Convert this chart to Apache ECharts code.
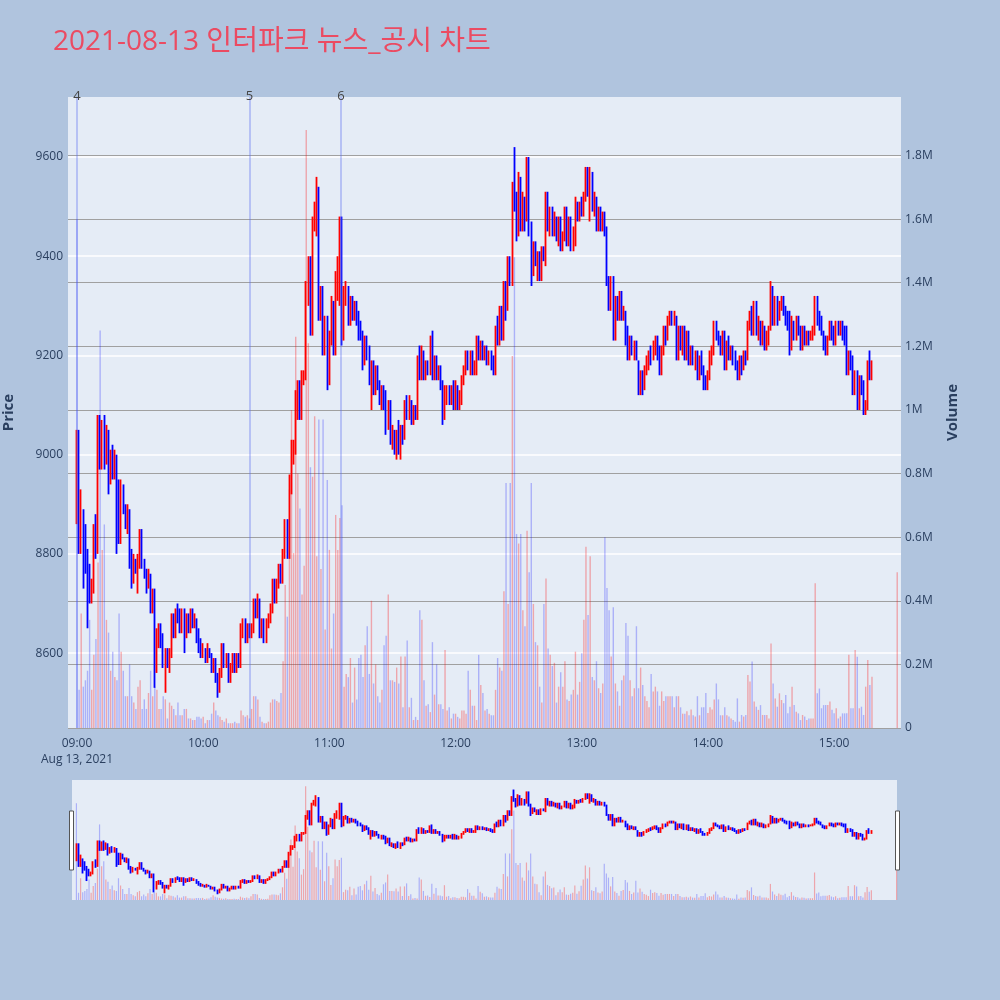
<!DOCTYPE html>
<html>
<head>
<meta charset="utf-8">
<script src="https://cdn.jsdelivr.net/npm/echarts@6/dist/echarts.min.js"></script>
<style>
html,body{margin:0;padding:0;background:#B0C4DE;}
#chart{width:1000px;height:1000px;}
</style>
</head>
<body>
<div id="chart"></div>
<script>
// ---------------- data ----------------
const chartTitle = '2021-08-13 인터파크 뉴스_공시 차트';
const dateLabel = 'Aug 13, 2021';
const firstOpen = 8900;
// one close per minute, 09:00 .. 15:18 (each minute opens at the previous close)
const closes = [
  9050, 8810, 8880, 8780, 8770, 8760, 8710, 8730, 8850, 8800,
  9080, 8980, 9070, 8990, 9050, 8940, 9000, 8960, 9000, 8910,
  8830, 8940, 8890, 8870, 8890, 8780, 8740, 8780, 8770, 8790,
  8850, 8780, 8760, 8740, 8760, 8690, 8730, 8560, 8640, 8650,
  8620, 8580, 8600, 8580, 8600, 8670, 8640, 8680, 8670, 8650,
  8680, 8640, 8670, 8650, 8680, 8660, 8670, 8630, 8620, 8600,
  8610, 8590, 8610, 8600, 8570, 8580, 8550, 8530, 8560, 8610,
  8580, 8590, 8550, 8570, 8590, 8570, 8590, 8580, 8650, 8660,
  8630, 8650, 8640, 8650, 8700, 8680, 8710, 8640, 8660, 8630,
  8660, 8670, 8690, 8740, 8710, 8740, 8770, 8750, 8800, 8860,
  8800, 8940, 8990, 9010, 9100, 9130, 9080, 9150, 9160, 9340,
  9390, 9250, 9470, 9500, 9540, 9300, 9330, 9210, 9260, 9140,
  9230, 9300, 9210, 9330, 9390, 9460, 9240, 9320, 9340, 9270,
  9310, 9280, 9300, 9270, 9250, 9240, 9190, 9230, 9200, 9150,
  9180, 9130, 9170, 9140, 9110, 9130, 9100, 9060, 9090, 9030,
  9040, 9010, 9040, 9010, 9050, 9030, 9100, 9080, 9110, 9070,
  9090, 9080, 9190, 9160, 9210, 9160, 9180, 9170, 9230, 9160,
  9190, 9160, 9170, 9140, 9080, 9110, 9130, 9110, 9130, 9100,
  9130, 9100, 9120, 9150, 9170, 9200, 9180, 9200, 9170, 9180,
  9230, 9200, 9220, 9200, 9210, 9190, 9200, 9180, 9170, 9250,
  9230, 9290, 9240, 9330, 9300, 9390, 9350, 9540, 9500, 9440,
  9550, 9460, 9510, 9470, 9590, 9460, 9370, 9420, 9390, 9400,
  9360, 9410, 9400, 9520, 9460, 9490, 9450, 9480, 9440, 9470,
  9420, 9440, 9490, 9430, 9470, 9420, 9440, 9510, 9480, 9500,
  9490, 9520, 9570, 9530, 9560, 9500, 9510, 9460, 9490, 9460,
  9480, 9450, 9350, 9300, 9350, 9250, 9310, 9280, 9320, 9280,
  9290, 9240, 9200, 9230, 9210, 9220, 9190, 9130, 9160, 9130,
  9170, 9180, 9200, 9190, 9220, 9230, 9200, 9170, 9210, 9250,
  9240, 9270, 9280, 9270, 9280, 9200, 9250, 9220, 9250, 9200,
  9240, 9190, 9210, 9180, 9200, 9150, 9190, 9170, 9140, 9130,
  9160, 9190, 9210, 9260, 9240, 9230, 9210, 9240, 9180, 9220,
  9200, 9210, 9190, 9180, 9150, 9190, 9170, 9200, 9190, 9260,
  9280, 9250, 9300, 9250, 9260, 9230, 9250, 9220, 9240, 9250,
  9340, 9270, 9310, 9280, 9300, 9310, 9290, 9280, 9260, 9210,
  9260, 9240, 9270, 9250, 9220, 9250, 9230, 9240, 9230, 9240,
  9250, 9310, 9290, 9270, 9250, 9220, 9210, 9230, 9260, 9240,
  9230, 9260, 9250, 9260, 9240, 9230, 9170, 9200, 9180, 9130,
  9160, 9100, 9150, 9130, 9090, 9100, 9180, 9160, 9180
];
const highs = [
  9050, 9050, 8930, 8890, 8860, 8810, 8780, 8750, 8860, 8880,
  9080, 9080, 9070, 9080, 9060, 9050, 9010, 9020, 9010, 9000,
  8950, 8950, 8940, 8900, 8900, 8890, 8810, 8800, 8790, 8800,
  8850, 8850, 8790, 8770, 8770, 8760, 8730, 8730, 8650, 8660,
  8660, 8640, 8610, 8610, 8610, 8680, 8680, 8690, 8700, 8690,
  8690, 8690, 8680, 8680, 8690, 8690, 8680, 8670, 8650, 8630,
  8620, 8610, 8620, 8610, 8600, 8590, 8590, 8560, 8570, 8620,
  8620, 8600, 8600, 8580, 8600, 8600, 8600, 8600, 8660, 8670,
  8670, 8660, 8660, 8660, 8710, 8710, 8720, 8710, 8670, 8670,
  8670, 8680, 8700, 8750, 8750, 8750, 8780, 8780, 8810, 8870,
  8870, 8960, 9030, 9030, 9130, 9150, 9150, 9170, 9170, 9350,
  9400, 9400, 9480, 9510, 9560, 9540, 9340, 9340, 9280, 9280,
  9250, 9320, 9310, 9370, 9400, 9480, 9480, 9340, 9350, 9340,
  9320, 9320, 9310, 9310, 9290, 9270, 9250, 9240, 9240, 9220,
  9190, 9190, 9180, 9180, 9150, 9140, 9140, 9130, 9110, 9110,
  9060, 9050, 9050, 9070, 9060, 9060, 9110, 9120, 9120, 9110,
  9100, 9100, 9200, 9220, 9220, 9210, 9190, 9190, 9240, 9250,
  9200, 9200, 9180, 9180, 9150, 9140, 9140, 9140, 9140, 9150,
  9150, 9140, 9130, 9160, 9180, 9210, 9210, 9210, 9210, 9190,
  9240, 9240, 9230, 9230, 9220, 9220, 9210, 9210, 9200, 9260,
  9280, 9300, 9300, 9350, 9350, 9400, 9400, 9550, 9620, 9530,
  9570, 9560, 9530, 9520, 9600, 9600, 9470, 9430, 9430, 9410,
  9410, 9420, 9420, 9530, 9530, 9500, 9500, 9490, 9480, 9480,
  9480, 9450, 9500, 9500, 9480, 9480, 9460, 9520, 9510, 9510,
  9520, 9530, 9580, 9580, 9580, 9570, 9530, 9520, 9500, 9500,
  9490, 9490, 9460, 9360, 9360, 9360, 9320, 9320, 9330, 9330,
  9300, 9290, 9260, 9240, 9240, 9230, 9230, 9190, 9170, 9170,
  9180, 9200, 9210, 9220, 9230, 9240, 9240, 9220, 9220, 9260,
  9260, 9280, 9290, 9290, 9290, 9280, 9260, 9260, 9260, 9260,
  9250, 9250, 9220, 9220, 9210, 9210, 9200, 9210, 9180, 9160,
  9170, 9210, 9220, 9270, 9270, 9250, 9240, 9250, 9250, 9230,
  9240, 9220, 9220, 9210, 9190, 9200, 9200, 9210, 9210, 9270,
  9290, 9300, 9310, 9310, 9280, 9270, 9270, 9260, 9250, 9260,
  9350, 9340, 9320, 9320, 9310, 9320, 9320, 9300, 9290, 9290,
  9280, 9270, 9280, 9280, 9260, 9260, 9260, 9250, 9250, 9250,
  9260, 9320, 9320, 9290, 9280, 9250, 9240, 9240, 9270, 9270,
  9260, 9270, 9270, 9270, 9270, 9260, 9260, 9210, 9210, 9200,
  9170, 9170, 9160, 9160, 9150, 9110, 9190, 9210, 9190
];
const lows = [
  8860, 8800, 8800, 8730, 8760, 8650, 8700, 8700, 8720, 8790,
  8800, 8970, 8970, 8970, 8980, 8920, 8940, 8950, 8950, 8800,
  8820, 8820, 8880, 8850, 8840, 8770, 8730, 8740, 8760, 8720,
  8770, 8770, 8750, 8720, 8730, 8680, 8680, 8530, 8560, 8610,
  8610, 8570, 8520, 8570, 8560, 8590, 8630, 8630, 8660, 8640,
  8640, 8600, 8630, 8640, 8640, 8650, 8650, 8620, 8600, 8590,
  8590, 8580, 8580, 8590, 8560, 8560, 8540, 8510, 8520, 8550,
  8570, 8570, 8540, 8540, 8560, 8560, 8560, 8570, 8570, 8630,
  8620, 8620, 8630, 8630, 8640, 8670, 8670, 8630, 8630, 8620,
  8620, 8650, 8660, 8680, 8700, 8700, 8730, 8740, 8740, 8790,
  8790, 8790, 8920, 8980, 9000, 9070, 9070, 9070, 9140, 9150,
  9300, 9240, 9240, 9450, 9440, 9270, 9270, 9200, 9200, 9130,
  9140, 9220, 9200, 9200, 9310, 9300, 9220, 9230, 9300, 9260,
  9260, 9270, 9270, 9260, 9230, 9230, 9170, 9180, 9190, 9140,
  9090, 9120, 9120, 9130, 9100, 9090, 9090, 9040, 9050, 9020,
  9010, 9000, 8990, 9000, 8990, 9020, 9030, 9070, 9070, 9060,
  9060, 9070, 9070, 9150, 9150, 9150, 9150, 9160, 9160, 9150,
  9150, 9150, 9150, 9130, 9060, 9070, 9100, 9100, 9100, 9090,
  9090, 9090, 9090, 9100, 9140, 9160, 9170, 9160, 9160, 9160,
  9160, 9190, 9190, 9190, 9190, 9180, 9180, 9170, 9160, 9160,
  9220, 9220, 9230, 9230, 9270, 9290, 9340, 9340, 9490, 9430,
  9440, 9450, 9450, 9450, 9470, 9440, 9340, 9360, 9380, 9350,
  9350, 9350, 9390, 9380, 9450, 9440, 9440, 9440, 9430, 9420,
  9410, 9410, 9430, 9420, 9420, 9410, 9410, 9420, 9470, 9470,
  9480, 9480, 9510, 9520, 9470, 9490, 9480, 9450, 9450, 9450,
  9450, 9440, 9340, 9290, 9290, 9230, 9230, 9270, 9270, 9270,
  9270, 9220, 9190, 9190, 9200, 9190, 9190, 9120, 9120, 9120,
  9130, 9160, 9170, 9180, 9190, 9200, 9190, 9160, 9160, 9200,
  9220, 9230, 9260, 9260, 9260, 9190, 9190, 9210, 9200, 9190,
  9190, 9180, 9180, 9180, 9170, 9150, 9150, 9160, 9130, 9130,
  9130, 9150, 9180, 9200, 9230, 9220, 9200, 9200, 9170, 9170,
  9190, 9190, 9180, 9170, 9150, 9150, 9160, 9170, 9180, 9190,
  9250, 9240, 9240, 9240, 9230, 9220, 9220, 9210, 9210, 9220,
  9250, 9260, 9260, 9260, 9270, 9290, 9280, 9260, 9250, 9200,
  9210, 9230, 9230, 9240, 9210, 9210, 9220, 9220, 9220, 9230,
  9230, 9240, 9260, 9250, 9240, 9210, 9200, 9200, 9230, 9230,
  9220, 9220, 9240, 9240, 9230, 9220, 9160, 9160, 9170, 9120,
  9120, 9090, 9090, 9120, 9080, 9080, 9090, 9150, 9150
];
// volume per minute, thousands of shares
const volumesK = [
  1600, 120, 360, 130, 150, 180, 340, 120, 230, 280,
  520, 1250, 560, 640, 340, 300, 180, 240, 160, 150,
  360, 240, 180, 100, 100, 200, 100, 80, 60, 130,
  150, 60, 90, 60, 110, 180, 100, 130, 120, 60,
  60, 100, 90, 30, 80, 70, 60, 40, 80, 40,
  40, 60, 60, 30, 30, 25, 25, 35, 35, 30,
  35, 15, 25, 25, 45, 80, 55, 40, 35, 25,
  20, 30, 15, 15, 15, 20, 15, 15, 55, 40,
  35, 40, 30, 60, 100, 100, 90, 35, 20, 15,
  15, 20, 80, 90, 90, 85, 80, 110, 210, 450,
  350, 750, 1000, 550, 1230, 800, 690, 420, 510, 1880,
  1210, 820, 790, 980, 540, 970, 500, 970, 310, 780,
  560, 250, 360, 670, 560, 660, 700, 130, 170, 160,
  220, 80, 190, 90, 220, 230, 160, 260, 320, 170,
  400, 140, 200, 100, 80, 120, 260, 290, 420, 150,
  150, 145, 190, 140, 225, 65, 225, 275, 65, 95,
  25, 35, 25, 370, 340, 150, 70, 75, 50, 270,
  105, 200, 75, 75, 60, 245, 55, 65, 30, 45,
  45, 35, 30, 55, 55, 45, 180, 120, 70, 70,
  25, 230, 135, 110, 55, 60, 45, 40, 40, 120,
  220, 190, 180, 430, 770, 390, 770, 1170, 1480, 610,
  580, 610, 370, 320, 620, 490, 770, 390, 270, 260,
  130, 80, 390, 470, 250, 230, 195, 205, 80, 130,
  175, 130, 210, 90, 85, 105, 120, 240, 105, 145,
  235, 340, 570, 355, 540, 160, 150, 210, 125, 110,
  140, 600, 440, 370, 225, 380, 140, 115, 70, 150,
  165, 330, 290, 150, 100, 125, 320, 125, 190, 135,
  100, 85, 65, 170, 115, 130, 115, 70, 115, 85,
  100, 100, 100, 100, 65, 100, 100, 65, 45, 45,
  53, 40, 58, 40, 36, 100, 40, 65, 65, 110,
  47, 65, 58, 90, 140, 90, 40, 40, 65, 40,
  36, 30, 25, 20, 93, 20, 41, 36, 41, 167,
  146, 209, 83, 67, 57, 72, 41, 41, 41, 30,
  266, 140, 93, 67, 109, 88, 78, 104, 46, 67,
  130, 72, 51, 46, 25, 41, 36, 25, 30, 30,
  30, 455, 109, 124, 62, 72, 72, 72, 83, 57,
  46, 62, 30, 36, 46, 46, 46, 230, 62, 62,
  245, 224, 62, 67, 41, 130, 214, 135, 161
];
const closingAuction = { time: '15:30', price: 9220, volumeK: 490 };
// news / disclosure markers
const newsTimes = ['09:00', '10:22', '11:05:30'];
const newsLabels = ['4', '5', '6'];
const timeTicks = ['09:00', '10:00', '11:00', '12:00', '13:00', '14:00', '15:00'];
const priceTicks = [8600, 8800, 9000, 9200, 9400, 9600];
const volumeTicksK = [0, 200, 400, 600, 800, 1000, 1200, 1400, 1600, 1800];

// ---------------- build ----------------
const toMin = t => { const p = t.split(':').map(Number); return (p[0] - 9) * 60 + p[1] + (p[2] || 0) / 60; };
const pad2 = n => (n < 10 ? '0' : '') + n;
const fmtTime = v => pad2(9 + Math.floor(Math.round(v) / 60)) + ':' + pad2(Math.round(v) % 60);

const candles = closes.map((c, i) => {
  const o = i === 0 ? firstOpen : closes[i - 1];
  return [i, o, c, lows[i], highs[i]];
});
const caX = toMin(closingAuction.time);
const cp = closingAuction.price;
candles.push([caX, cp, cp, cp, cp]);

const allCloses = closes.concat([cp]);
const allVols = volumesK.concat([closingAuction.volumeK]);
const UP = '#FF0000', DOWN = '#0000FF';
const VOL_UP = 'rgba(255,0,0,0.3)', VOL_DOWN = 'rgba(0,0,255,0.25)';
const volData = allVols.map((v, i) => ({
  value: [candles[i][0], v],
  itemStyle: { color: (i > 0 && allCloses[i] > allCloses[i - 1]) ? VOL_UP : VOL_DOWN }
}));

const FONT = '"Open Sans", "Noto Sans CJK KR", sans-serif';
const TXT = '#2a3f5f';
const PMIN = 8449, PMAX = 9721, VMAX = 1984;

const candleStyle = {
  color: UP, color0: DOWN, borderColor: UP, borderColor0: DOWN, borderColorDoji: UP, borderWidth: 1.8
};

const chart = echarts.init(document.getElementById('chart'), null, { renderer: 'canvas' });
chart.setOption({
  backgroundColor: '#B0C4DE',
  animation: false,
  textStyle: { fontFamily: FONT },
  title: {
    text: chartTitle, left: 48, top: 23,
    textStyle: { color: '#EB4B62', fontSize: 28, fontWeight: 'normal', fontFamily: FONT }
  },
  grid: [
    { left: 68, top: 97, width: 833, height: 631, show: true, backgroundColor: '#E5ECF6', borderWidth: 0, containLabel: false, outerBoundsMode: 'none' },
    { left: 72, top: 780, width: 825, height: 120, show: true, backgroundColor: '#E5ECF6', borderWidth: 0, containLabel: false, outerBoundsMode: 'none' }
  ],
  xAxis: [
    {
      type: 'value', gridIndex: 0, min: -4.28, max: 391.8,
      axisLine: { show: false }, axisTick: { show: false }, splitLine: { show: false },
      axisLabel: {
        customValues: timeTicks.map(toMin),
        color: TXT, fontSize: 12, fontFamily: FONT, margin: 8, lineHeight: 16,
        formatter: v => Math.abs(v) < 1e-6 ? fmtTime(v) + '\n' + dateLabel : fmtTime(v)
      }
    },
    { type: 'value', gridIndex: 1, min: -2.1, max: 390.2, show: false }
  ],
  yAxis: [
    {
      type: 'value', gridIndex: 0, position: 'left', min: PMIN, max: PMAX, splitNumber: 6,
      axisLine: { show: false }, axisTick: { show: false },
      axisLabel: {
        color: TXT, fontSize: 12, fontFamily: FONT, margin: 5,
        showMinLabel: false, showMaxLabel: false,
        formatter: v => priceTicks.indexOf(v) >= 0 ? String(v) : ''
      },
      splitLine: { show: true, showMinLine: false, showMaxLine: false, lineStyle: { color: '#FFFFFF', width: 1.5 } },
      name: 'Price', nameLocation: 'middle', nameGap: 52, nameRotate: 90,
      nameTextStyle: { color: TXT, fontSize: 15, fontWeight: 'bold', fontFamily: FONT }
    },
    {
      type: 'value', gridIndex: 0, position: 'right', min: 0, max: VMAX, interval: 200,
      axisLine: { show: false }, axisTick: { show: false },
      axisLabel: {
        color: TXT, fontSize: 12, fontFamily: FONT, margin: 4, showMaxLabel: false,
        formatter: v => volumeTicksK.indexOf(v) < 0 ? '' : (v === 0 ? '0' : (v / 1000) + 'M')
      },
      splitLine: { show: true, showMaxLine: false, lineStyle: { color: '#A0A0A0', width: 1.2 } },
      name: 'Volume', nameLocation: 'middle', nameGap: 44, nameRotate: 90,
      nameTextStyle: { color: TXT, fontSize: 15, fontWeight: 'bold', fontFamily: FONT }
    },
    { type: 'value', gridIndex: 1, min: PMIN, max: PMAX, show: false },
    { type: 'value', gridIndex: 1, min: 0, max: VMAX, show: false }
  ],
  series: [
    {
      type: 'bar', name: 'Volume', xAxisIndex: 0, yAxisIndex: 1, data: volData, barWidth: 1.4, z: 1,
      markLine: {
        silent: true, symbol: ['none', 'none'], animation: false,
        lineStyle: { color: 'rgba(90,110,240,0.45)', width: 1.5, type: 'solid' },
        label: { show: true, position: 'end', distance: -6, color: '#444', fontSize: 13, fontFamily: FONT, formatter: p => p.name },
        data: newsTimes.map((t, i) => ({ xAxis: toMin(t), name: newsLabels[i] }))
      }
    },
    {
      type: 'candlestick', name: 'Price', xAxisIndex: 0, yAxisIndex: 0, data: candles,
      barWidth: 1.2, itemStyle: candleStyle, z: 3
    },
    { type: 'bar', xAxisIndex: 1, yAxisIndex: 3, data: volData, barWidth: 1.2, z: 1 },
    { type: 'candlestick', xAxisIndex: 1, yAxisIndex: 2, data: candles, barWidth: 1.2, itemStyle: candleStyle, z: 3 }
  ],
  graphic: [
    { type: 'rect', shape: { x: 69.5, y: 811, width: 4, height: 59 }, style: { fill: '#FFFFFF', stroke: '#555', lineWidth: 1 }, z: 10 },
    { type: 'rect', shape: { x: 895.5, y: 811, width: 4, height: 59 }, style: { fill: '#FFFFFF', stroke: '#555', lineWidth: 1 }, z: 10 }
  ]
});
</script>
</body>
</html>
